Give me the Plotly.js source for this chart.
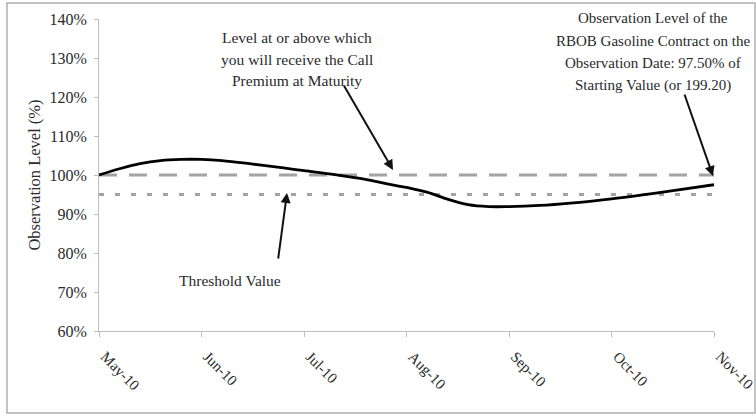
<!DOCTYPE html>
<html>
<head>
<meta charset="utf-8">
<script src="https://cdn.plot.ly/plotly-3.0.1.min.js"></script>
<style>html,body{margin:0;padding:0;background:#fff;}#chart{width:756px;height:417px;}</style>
</head>
<body>
<div id="chart"></div>
<script>
// Month index positions (0 = May-10 ... 6 = Nov-10)
var monthLabels = ["May-10", "Jun-10", "Jul-10", "Aug-10", "Sep-10", "Oct-10", "Nov-10"];
var monthIndex = [0, 1, 2, 3, 4, 5, 6];

// Observation level curve (month index, % of starting value)
var curveX = [0, 0.2, 0.4, 0.6, 0.8, 1.0, 1.2, 1.5, 1.8, 2.0, 2.3, 2.6, 2.8, 3.0, 3.2, 3.4, 3.6, 3.8, 4.0, 4.3, 4.6, 5.0, 5.3, 5.6, 6.0];
var curveY = [100, 101.6, 102.9, 103.7, 104.0, 104.0, 103.7, 102.8, 101.8, 101.1, 100.1, 98.9, 97.8, 96.8, 95.6, 93.8, 92.4, 91.9, 91.9, 92.2, 92.8, 93.9, 94.9, 96.0, 97.5];

var callLevel = [100, 100];
var thresholdLevel = [95, 95];
var lineEnds = [0, 6];

var serif = "Liberation Serif, Times New Roman, serif";
var textColor = "#2a2a2a";

var traces = [
  {x: lineEnds, y: callLevel, mode: "lines", line: {color: "#a3a3a3", width: 3, dash: "18px,12px"}, hoverinfo: "skip"},
  {x: lineEnds, y: thresholdLevel, mode: "lines", line: {color: "#a3a3a3", width: 3, dash: "5px,11px"}, hoverinfo: "skip"},
  {x: curveX, y: curveY, mode: "lines", line: {color: "#000", width: 2.8, shape: "spline", smoothing: 1}, hoverinfo: "skip"}
];

// pixel -> paper / data helpers for annotation placement
function ppx(px) { return (px - 99) / 615; }
function ppy(py) { return (331 - py) / 312; }
function px2x(px) { return (px - 99) / 102.5; }
function py2y(py) { return 100 + (175 - py) / 3.9; }

function txt(px, py, t, size) {
  return {xref: "paper", yref: "paper", x: ppx(px), y: ppy(py), text: t, showarrow: false,
          font: {family: serif, size: size || 15.5, color: textColor}, xanchor: "center", yanchor: "middle"};
}
function arrow(hx, hy, tx, ty) {
  return {xref: "x", yref: "y", axref: "x", ayref: "y", x: px2x(hx), y: py2y(hy), ax: px2x(tx), ay: py2y(ty), text: "",
          showarrow: true, arrowhead: 2, arrowsize: 1, arrowwidth: 2, arrowcolor: "#111"};
}

var annotations = [
  txt(297, 37, "Level at or above which"),
  txt(297, 59, "you will receive the Call"),
  txt(297, 81, "Premium at Maturity"),
  arrow(393, 170, 343, 84),
  txt(653, 18, "Observation Level of the", 15),
  txt(653, 41, "RBOB Gasoline Contract on the", 15),
  txt(653, 63, "Observation Date: 97.50% of", 15),
  txt(653, 85, "Starting Value (or 199.20)", 15),
  arrow(713, 176, 684, 93),
  txt(230, 280, "Threshold Value"),
  arrow(287, 193, 278, 260)
];

var layout = {
  width: 756, height: 417,
  margin: {l: 99, r: 42, t: 19, b: 86},
  paper_bgcolor: "#fff", plot_bgcolor: "#fff",
  showlegend: false,
  font: {family: serif, size: 15, color: textColor},
  xaxis: {
    range: [0, 6], tickvals: monthIndex, ticktext: monthLabels, tickangle: 45,
    showgrid: false, zeroline: false, showline: true, linecolor: "#bdbdbd", linewidth: 1,
    ticks: "outside", ticklen: 5, tickcolor: "#bdbdbd",
    ticklabelstandoff: 5, ticklabelshift: 6, ticklabeloverflow: "allow",
    tickfont: {family: serif, size: 15, color: textColor}
  },
  yaxis: {
    range: [60, 140], dtick: 10, ticksuffix: "%",
    showgrid: false, zeroline: false, showline: true, linecolor: "#bdbdbd", linewidth: 1,
    ticks: "outside", ticklen: 4, tickcolor: "#bdbdbd",
    ticklabelstandoff: 4,
    tickfont: {family: serif, size: 16, color: textColor},
    title: {text: "Observation Level (%)", font: {family: serif, size: 16.5, color: textColor}, standoff: 4}
  },
  annotations: annotations,
  shapes: [
    {type: "rect", xref: "paper", yref: "paper",
     x0: ppx(7), x1: ppx(755), y0: ppy(413), y1: ppy(3),
     line: {color: "#b0b0b0", width: 1.5}, fillcolor: "rgba(0,0,0,0)"}
  ]
};

Plotly.newPlot("chart", traces, layout, {displayModeBar: false, staticPlot: true});
</script>
</body>
</html>
